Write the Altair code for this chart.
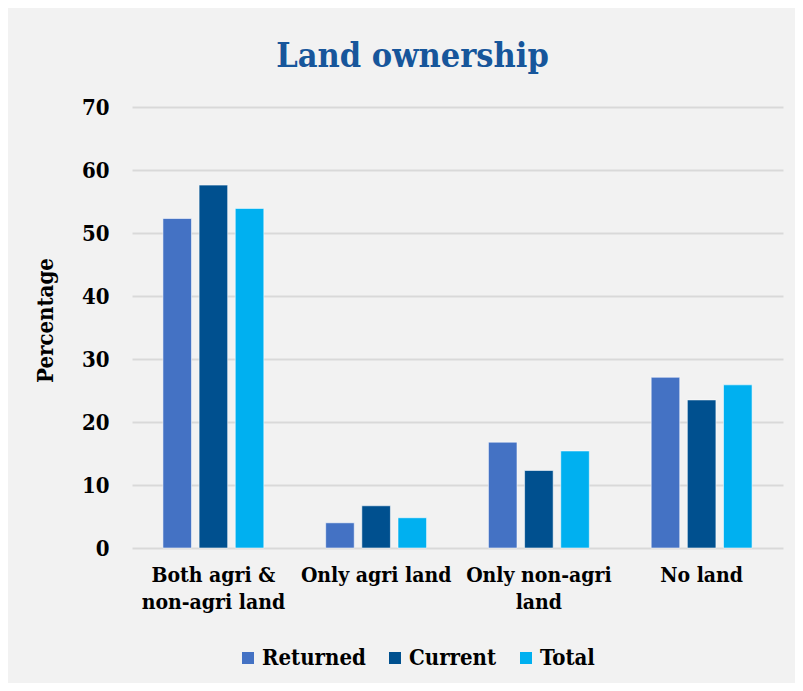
import altair as alt
import pandas as pd

categories = ["Both agri & non-agri land", "Only agri land", "Only non-agri land", "No land"]
series = ["Returned", "Current", "Total"]
returned = [52.3, 4.0, 16.8, 27.1]
current = [57.6, 6.7, 12.3, 23.5]
total = [53.9, 4.8, 15.4, 25.9]
colors = ["#4472C4", "#00508F", "#00B0F0"]
y_ticks = [0, 10, 20, 30, 40, 50, 60, 70]

rows = []
for s, vals in zip(series, [returned, current, total]):
    for c, v in zip(categories, vals):
        rows.append({"Category": c, "Series": s, "Value": v})
df = pd.DataFrame(rows)

FONT = "DejaVu Serif Condensed"

label_expr = (
    "datum.value == 'Both agri & non-agri land' ? ['Both agri &', 'non-agri land'] : "
    "datum.value == 'Only non-agri land' ? ['Only non-agri', 'land'] : datum.label"
)

chart = alt.Chart(df).mark_bar(
    stroke="#ffffff", strokeOpacity=0.55, strokeWidth=1
).encode(
    x=alt.X("Category:N", sort=categories, title=None,
            scale=alt.Scale(paddingInner=0.38, paddingOuter=0.19),
            axis=alt.Axis(labelAngle=0, labelExpr=label_expr, labelFont=FONT,
                          labelFontWeight="bold", labelFontSize=21, labelColor="#000000",
                          labelLineHeight=27, labelPadding=16, labelLimit=0,
                          domain=False, ticks=False, labelBaseline="top")),
    xOffset=alt.XOffset("Series:N", sort=series,
                        scale=alt.Scale(paddingInner=0.21, paddingOuter=0)),
    y=alt.Y("Value:Q", title="Percentage",
            scale=alt.Scale(domain=[0, 70], nice=False),
            axis=alt.Axis(values=y_ticks, labelFont=FONT, labelFontWeight="bold",
                          labelFontSize=22, labelColor="#000000", labelPadding=23,
                          domain=False, ticks=False, gridColor="#d9d9d9", gridWidth=2,
                          titleFont=FONT, titleFontWeight="bold", titleFontSize=22,
                          titleColor="#000000", titleAngle=-90, titleX=-87, titleY=213,
                          titleAlign="center", titleBaseline="middle")),
    color=alt.Color("Series:N", sort=series,
                    scale=alt.Scale(domain=series, range=colors),
                    legend=alt.Legend(title=None, orient="none", legendX=105, legendY=540,
                                      direction="horizontal", symbolType="square",
                                      symbolSize=144, symbolStrokeWidth=0,
                                      labelFont=FONT, labelFontWeight="bold",
                                      labelFontSize=22, labelColor="#000000",
                                      labelOffset=3, columnPadding=18)),
).properties(
    width=651,
    height=441,
    title=alt.TitleParams("Land ownership", font=FONT, fontWeight="bold", fontSize=34,
                          color="#17569B", anchor="middle", frame="group", dx=-45,
                          dy=35, baseline="alphabetic", offset=30),
    autosize=alt.AutoSizeParams(type="none"),
    padding={"left": 124, "top": 99, "right": 12, "bottom": 135},
    background="#f2f2f2",
).configure_view(stroke=None)

chart.save("out.html", embed_options={"renderer": "svg", "actions": False})
